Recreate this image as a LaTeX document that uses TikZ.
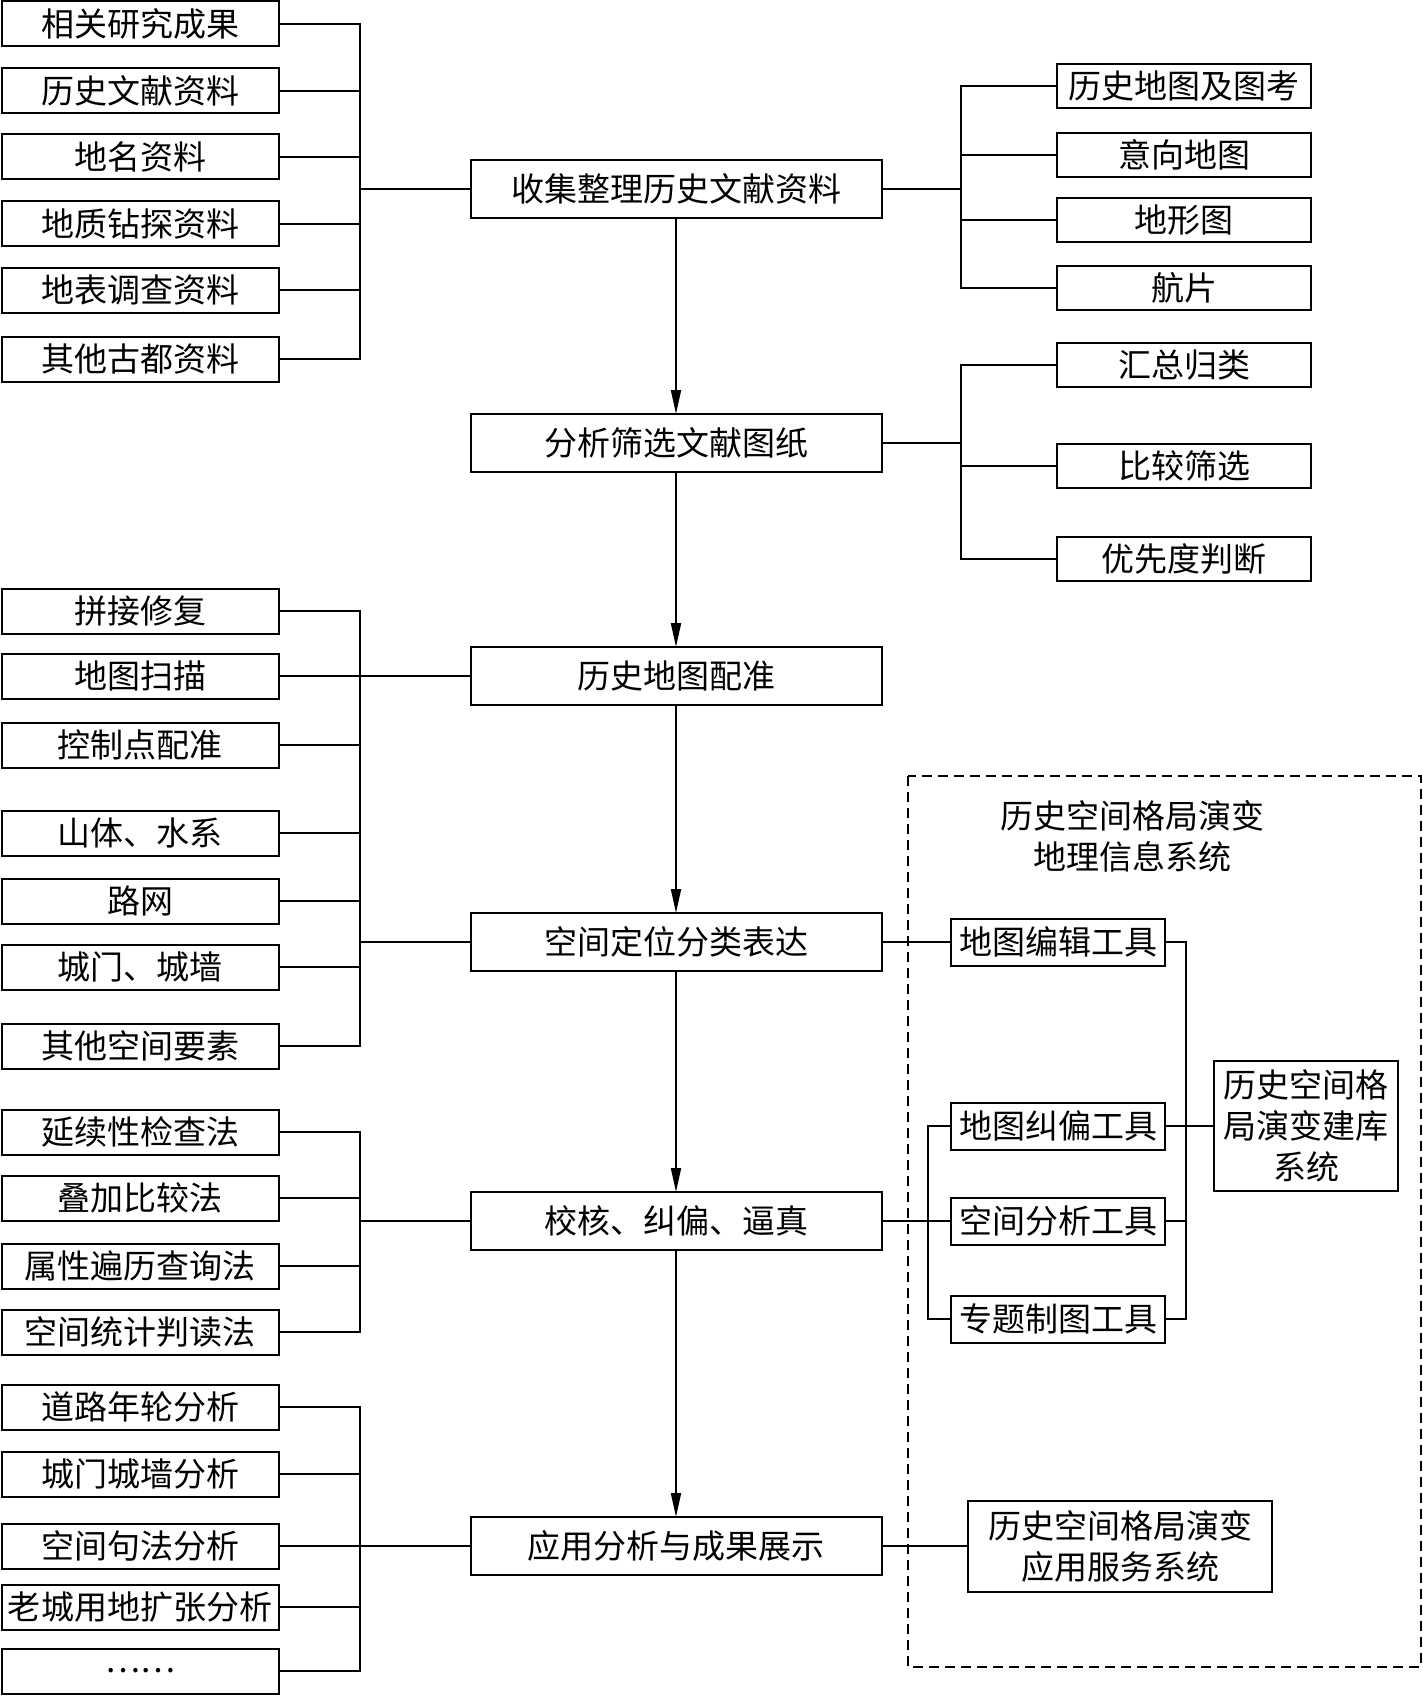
\documentclass[tikz,border=0pt]{standalone}
\usepackage{fontspec}
\setmainfont{Noto Sans CJK SC}
\usepackage{tikz}
\usetikzlibrary{arrows.meta,positioning}

\begin{document}
\begin{tikzpicture}[
    x=0.5pt, y=-0.5pt,
    every node/.style={font=\fontsize{16.5}{20.5}\selectfont},
    src/.style={rectangle, draw, line width=1pt,
                minimum width=138.5pt, minimum height=22.5pt,
                inner sep=0pt},
    main/.style={rectangle, draw, line width=1pt,
                 minimum width=205.5pt, minimum height=29pt,
                 inner sep=0pt, outer sep=0pt},
    refbox/.style={rectangle, draw, line width=1pt,
                   minimum width=127pt, minimum height=22pt,
                   inner sep=0pt},
    tool/.style={rectangle, draw, line width=1pt,
                 minimum width=107pt, minimum height=23.5pt,
                 inner sep=0pt},
    sys/.style={rectangle, draw, line width=1pt,
                align=center, inner sep=0pt},
    arr/.style={-{Triangle[length=12pt,width=5pt]}, line width=1pt},
    con/.style={line width=1pt},
    grp/.style={line width=1pt, dash pattern=on 5pt off 3pt},
  ]
  \useasboundingbox (0,0) rectangle (1423,1696);

  %% MAIN CHAIN
  \node[main] (collect) at (676,189) {收集整理历史文献资料};
  \node[main, below=98pt of collect]    (screen)   {分析筛选文献图纸};
  \node[main, below=87.5pt of screen]   (register) {历史地图配准};
  \node[main, below=104pt of register]  (locate)   {空间定位分类表达};
  \node[main, below=110.5pt of locate]  (check)    {校核、纠偏、逼真};
  \node[main, below=133.5pt of check]   (apply)    {应用分析与成果展示};

  \draw[arr] (collect)--(screen);
  \draw[arr] (screen)--(register);
  \draw[arr] (register)--(locate);
  \draw[arr] (locate)--(check);
  \draw[arr] (check)--(apply);

  %% LEFT -- sources
  \node[src] (a1) at (140,24)  {相关研究成果};
  \node[src] (a2) at (140,91)  {历史文献资料};
  \node[src] (a3) at (140,157) {地名资料};
  \node[src] (a4) at (140,224) {地质钻探资料};
  \node[src] (a5) at (140,290) {地表调查资料};
  \node[src] (a6) at (140,359) {其他古都资料};

  \coordinate (ja) at (360,189);
  \draw[con] (a1.east) -| (ja) |- (a6.east);
  \draw[con] (a2.east) -- (a2.east -| ja);
  \draw[con] (a3.east) -- (a3.east -| ja);
  \draw[con] (a4.east) -- (a4.east -| ja);
  \draw[con] (a5.east) -- (a5.east -| ja);
  \draw[con] (ja) -- (collect);

  %% RIGHT -- maps
  \node[refbox] (r1) at (1184,86)  {历史地图及图考};
  \node[refbox] (r2) at (1184,155) {意向地图};
  \node[refbox] (r3) at (1184,220) {地形图};
  \node[refbox] (r4) at (1184,288) {航片};

  \coordinate (jr) at (961,189);
  \draw[con] (r1.west) -| (jr) |- (r4.west);
  \draw[con] (r2.west) -- (r2.west -| jr);
  \draw[con] (r3.west) -- (r3.west -| jr);
  \draw[con] (collect) -- (jr);

  %% RIGHT -- screening
  \node[refbox] (q1) at (1184,365) {汇总归类};
  \node[refbox] (q2) at (1184,466) {比较筛选};
  \node[refbox] (q3) at (1184,559) {优先度判断};

  \coordinate (jq) at (961,443);
  \draw[con] (q1.west) -| (jq) |- (q3.west);
  \draw[con] (q2.west) -- (q2.west -| jq);
  \draw[con] (screen) -- (jq);

  %% LEFT -- registration and elements
  \node[src] (b1) at (140,611)  {拼接修复};
  \node[src] (b2) at (140,676)  {地图扫描};
  \node[src] (b3) at (140,745)  {控制点配准};
  \node[src] (b4) at (140,833)  {山体、水系};
  \node[src] (b5) at (140,901)  {路网};
  \node[src] (b6) at (140,967)  {城门、城墙};
  \node[src] (b7) at (140,1046) {其他空间要素};

  \coordinate (jb) at (360,942);
  \draw[con] (b1.east) -| (jb) |- (b7.east);
  \draw[con] (b2) -- (register);
  \draw[con] (b3.east) -- (b3.east -| jb);
  \draw[con] (b4.east) -- (b4.east -| jb);
  \draw[con] (b5.east) -- (b5.east -| jb);
  \draw[con] (b6.east) -- (b6.east -| jb);
  \draw[con] (jb) -- (locate);

  %% LEFT -- checking methods
  \node[src] (c1) at (140,1132) {延续性检查法};
  \node[src] (c2) at (140,1198) {叠加比较法};
  \node[src] (c3) at (140,1266) {属性遍历查询法};
  \node[src] (c4) at (140,1332) {空间统计判读法};

  \coordinate (jc) at (360,1221);
  \draw[con] (c1.east) -| (jc) |- (c4.east);
  \draw[con] (c2.east) -- (c2.east -| jc);
  \draw[con] (c3.east) -- (c3.east -| jc);
  \draw[con] (jc) -- (check);

  %% LEFT -- analyses
  \node[src] (d1) at (140,1407) {道路年轮分析};
  \node[src] (d2) at (140,1474) {城门城墙分析};
  \node[src] (d3) at (140,1546) {空间句法分析};
  \node[src] (d4) at (140,1607) {老城用地扩张分析};
  \node[src] (d5) at (140,1671) {……};

  \coordinate (jd) at (360,1546);
  \draw[con] (d1.east) -| (jd) |- (d5.east);
  \draw[con] (d2.east) -- (d2.east -| jd);
  \draw[con] (d4.east) -- (d4.east -| jd);
  \draw[con] (d3) -- (apply);

  %% GIS -- dashed frame
  \draw[grp] (908,776) rectangle (1421,1667);
  \node[align=center] (gistitle) at (1132,836) {历史空间格局演变\\地理信息系统};

  \node[tool] (t1) at (1058,942)  {地图编辑工具};
  \node[tool] (t2) at (1058,1126) {地图纠偏工具};
  \node[tool] (t3) at (1058,1221) {空间分析工具};
  \node[tool] (t4) at (1058,1319) {专题制图工具};
  \node[sys, minimum width=92pt, minimum height=65pt] (db) at (1306,1126)
    {历史空间格\\局演变建库\\系统};
  \node[sys, minimum width=152pt, minimum height=45.5pt] (app) at (1120,1546)
    {历史空间格局演变\\应用服务系统};

  \draw[con] (locate) -- (t1);
  \coordinate (tl) at (928,1221);
  \draw[con] (t2.west) -| (tl) |- (t4.west);
  \draw[con] (check) -- (t3);
  \coordinate (tr) at (1186,1126);
  \draw[con] (t1.east) -| (tr) |- (t4.east);
  \draw[con] (t3.east) -- (t3.east -| tr);
  \draw[con] (t2) -- (db);
  \draw[con] (apply) -- (app);

\end{tikzpicture}
\end{document}
